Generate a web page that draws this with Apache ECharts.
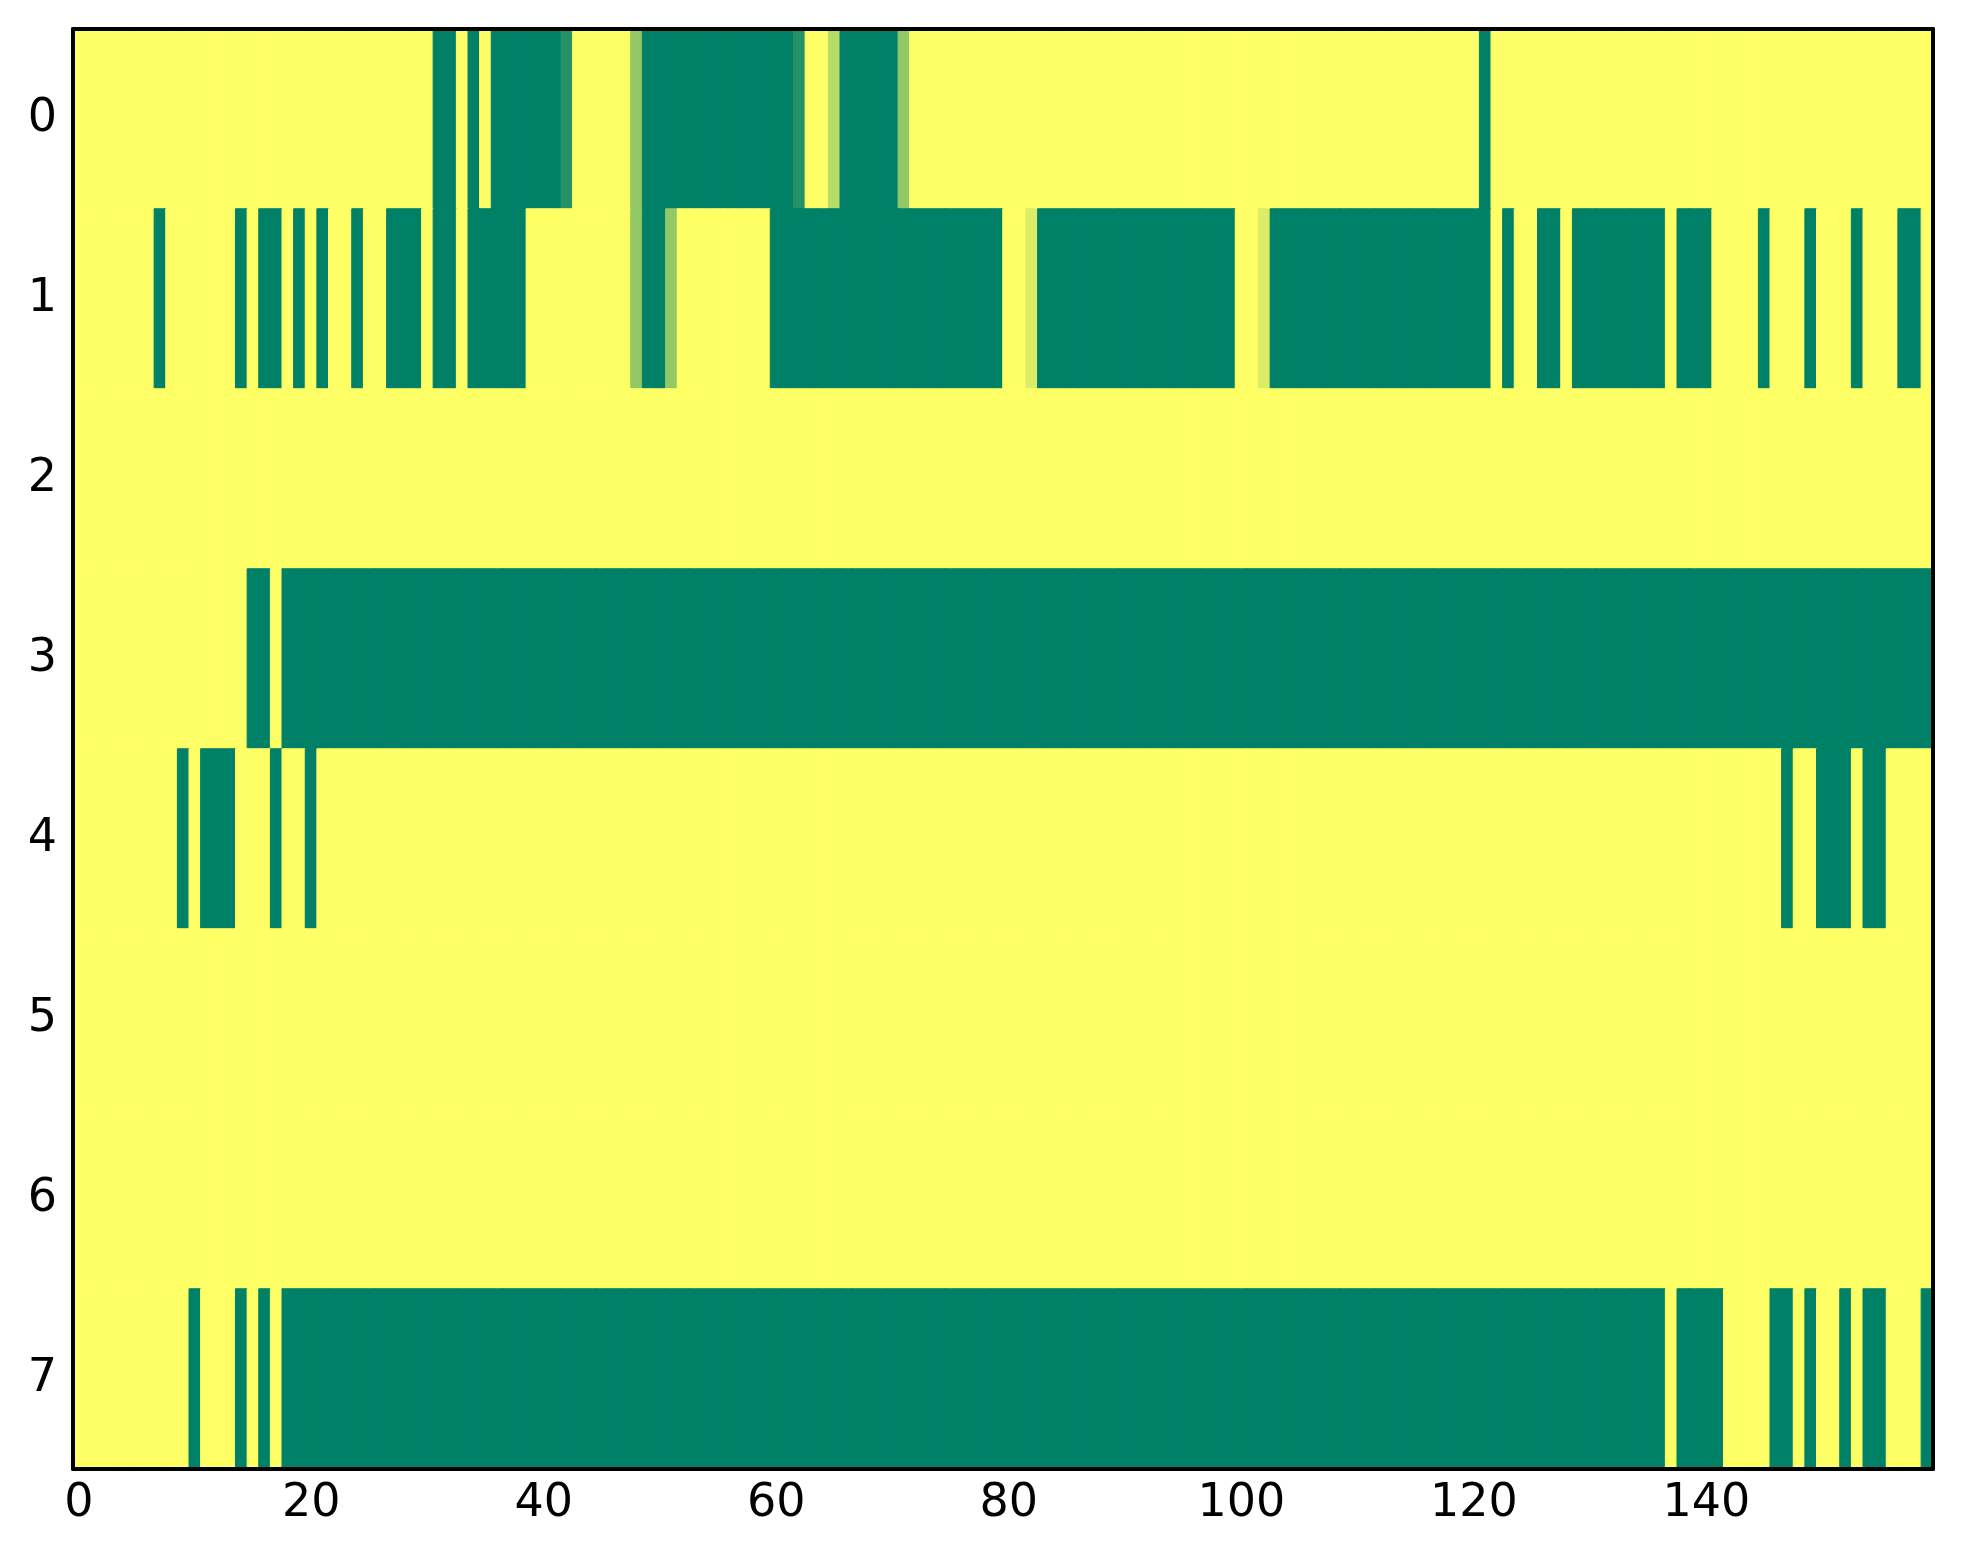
<!DOCTYPE html>
<html>
<head>
<meta charset="utf-8">
<title>heatmap</title>
<script src="https://cdn.jsdelivr.net/npm/echarts@6/dist/echarts.min.js"></script>
<style>
  html, body { margin: 0; padding: 0; background: #fff; }
  #chart { width: 1963px; height: 1564px; }
</style>
</head>
<body>
<div id="chart"></div>
<script>
// values are in sevenths: 0 = yellow, 7 = full green
var row0 = [
  0,0,0,0,0,0,0,0,0,0,0,0,0,0,0,0,0,0,0,0,
  0,0,0,0,0,0,0,0,0,0,0,7,7,0,7,0,7,7,7,7,
  7,7,6,0,0,0,0,0,3,7,7,7,7,7,7,7,7,7,7,7,
  7,7,6,0,0,2,7,7,7,7,7,3,0,0,0,0,0,0,0,0,
  0,0,0,0,0,0,0,0,0,0,0,0,0,0,0,0,0,0,0,0,
  0,0,0,0,0,0,0,0,0,0,0,0,0,0,0,0,0,0,0,0,
  0,7,0,0,0,0,0,0,0,0,0,0,0,0,0,0,0,0,0,0,
  0,0,0,0,0,0,0,0,0,0,0,0,0,0,0,0,0,0,0,0
];
var row1 = [
  0,0,0,0,0,0,0,7,0,0,0,0,0,0,7,0,7,7,0,7,
  0,7,0,0,7,0,0,7,7,7,0,7,7,0,7,7,7,7,7,0,
  0,0,0,0,0,0,0,0,3,7,7,3,0,0,0,0,0,0,0,0,
  7,7,7,7,7,7,7,7,7,7,7,7,7,7,7,7,7,7,7,7,
  0,0,1,7,7,7,7,7,7,7,7,7,7,7,7,7,7,7,7,7,
  0,0,1,7,7,7,7,7,7,7,7,7,7,7,7,7,7,7,7,7,
  7,7,0,7,0,0,7,7,0,7,7,7,7,7,7,7,7,0,7,7,
  7,0,0,0,0,7,0,0,0,7,0,0,0,7,0,0,0,7,7,0
];
var row2 = [
  0,0,0,0,0,0,0,0,0,0,0,0,0,0,0,0,0,0,0,0,
  0,0,0,0,0,0,0,0,0,0,0,0,0,0,0,0,0,0,0,0,
  0,0,0,0,0,0,0,0,0,0,0,0,0,0,0,0,0,0,0,0,
  0,0,0,0,0,0,0,0,0,0,0,0,0,0,0,0,0,0,0,0,
  0,0,0,0,0,0,0,0,0,0,0,0,0,0,0,0,0,0,0,0,
  0,0,0,0,0,0,0,0,0,0,0,0,0,0,0,0,0,0,0,0,
  0,0,0,0,0,0,0,0,0,0,0,0,0,0,0,0,0,0,0,0,
  0,0,0,0,0,0,0,0,0,0,0,0,0,0,0,0,0,0,0,0
];
var row3 = [
  0,0,0,0,0,0,0,0,0,0,0,0,0,0,0,7,7,0,7,7,
  7,7,7,7,7,7,7,7,7,7,7,7,7,7,7,7,7,7,7,7,
  7,7,7,7,7,7,7,7,7,7,7,7,7,7,7,7,7,7,7,7,
  7,7,7,7,7,7,7,7,7,7,7,7,7,7,7,7,7,7,7,7,
  7,7,7,7,7,7,7,7,7,7,7,7,7,7,7,7,7,7,7,7,
  7,7,7,7,7,7,7,7,7,7,7,7,7,7,7,7,7,7,7,7,
  7,7,7,7,7,7,7,7,7,7,7,7,7,7,7,7,7,7,7,7,
  7,7,7,7,7,7,7,7,7,7,7,7,7,7,7,7,7,7,7,7
];
var row4 = [
  0,0,0,0,0,0,0,0,0,7,0,7,7,7,0,0,0,7,0,0,
  7,0,0,0,0,0,0,0,0,0,0,0,0,0,0,0,0,0,0,0,
  0,0,0,0,0,0,0,0,0,0,0,0,0,0,0,0,0,0,0,0,
  0,0,0,0,0,0,0,0,0,0,0,0,0,0,0,0,0,0,0,0,
  0,0,0,0,0,0,0,0,0,0,0,0,0,0,0,0,0,0,0,0,
  0,0,0,0,0,0,0,0,0,0,0,0,0,0,0,0,0,0,0,0,
  0,0,0,0,0,0,0,0,0,0,0,0,0,0,0,0,0,0,0,0,
  0,0,0,0,0,0,0,7,0,0,7,7,7,0,7,7,0,0,0,0
];
var row5 = [
  0,0,0,0,0,0,0,0,0,0,0,0,0,0,0,0,0,0,0,0,
  0,0,0,0,0,0,0,0,0,0,0,0,0,0,0,0,0,0,0,0,
  0,0,0,0,0,0,0,0,0,0,0,0,0,0,0,0,0,0,0,0,
  0,0,0,0,0,0,0,0,0,0,0,0,0,0,0,0,0,0,0,0,
  0,0,0,0,0,0,0,0,0,0,0,0,0,0,0,0,0,0,0,0,
  0,0,0,0,0,0,0,0,0,0,0,0,0,0,0,0,0,0,0,0,
  0,0,0,0,0,0,0,0,0,0,0,0,0,0,0,0,0,0,0,0,
  0,0,0,0,0,0,0,0,0,0,0,0,0,0,0,0,0,0,0,0
];
var row6 = [
  0,0,0,0,0,0,0,0,0,0,0,0,0,0,0,0,0,0,0,0,
  0,0,0,0,0,0,0,0,0,0,0,0,0,0,0,0,0,0,0,0,
  0,0,0,0,0,0,0,0,0,0,0,0,0,0,0,0,0,0,0,0,
  0,0,0,0,0,0,0,0,0,0,0,0,0,0,0,0,0,0,0,0,
  0,0,0,0,0,0,0,0,0,0,0,0,0,0,0,0,0,0,0,0,
  0,0,0,0,0,0,0,0,0,0,0,0,0,0,0,0,0,0,0,0,
  0,0,0,0,0,0,0,0,0,0,0,0,0,0,0,0,0,0,0,0,
  0,0,0,0,0,0,0,0,0,0,0,0,0,0,0,0,0,0,0,0
];
var row7 = [
  0,0,0,0,0,0,0,0,0,0,7,0,0,0,7,0,7,0,7,7,
  7,7,7,7,7,7,7,7,7,7,7,7,7,7,7,7,7,7,7,7,
  7,7,7,7,7,7,7,7,7,7,7,7,7,7,7,7,7,7,7,7,
  7,7,7,7,7,7,7,7,7,7,7,7,7,7,7,7,7,7,7,7,
  7,7,7,7,7,7,7,7,7,7,7,7,7,7,7,7,7,7,7,7,
  7,7,7,7,7,7,7,7,7,7,7,7,7,7,7,7,7,7,7,7,
  7,7,7,7,7,7,7,7,7,7,7,7,7,7,7,7,7,0,7,7,
  7,7,0,0,0,0,7,7,0,7,0,0,7,0,7,7,0,0,0,7
];

var rows = [row0, row1, row2, row3, row4, row5, row6, row7];
var rowLabels = ['0', '1', '2', '3', '4', '5', '6', '7'];
var colLabels = [];
for (var i = 0; i < row0.length; i++) colLabels.push(String(i));

var colorRange = ['#ffff66', '#008066'];  // summer_r ends
var vMax = 7;

// border in the cell's own colour hides the seams between cells
var data = [];
rows.forEach(function(r, y) {
    r.forEach(function(v, x) {
        data.push({
            value: [x, y, v],
            itemStyle: { borderColor: echarts.color.lerp(v / vMax, colorRange) }
        });
    });
});

function every20(index) {
    return index % 20 === 0;
}

var lineStyle = { color: '#000', width: 4 };
var tickStyle = { color: '#000', width: 2 };
var labelStyle = {
    color: '#000',
    fontSize: 46,
    fontFamily: 'DejaVu Sans'
};

var chart = echarts.init(document.getElementById('chart'), null, { renderer: 'canvas' });
chart.setOption({
    animation: false,
    backgroundColor: '#fff',
    grid: { left: 73, right: 30, top: 29, bottom: 95 },
    xAxis: [{
        type: 'category',
        data: colLabels,
        position: 'bottom',
        z: 10,
        axisLine: { lineStyle: lineStyle },
        axisTick: { inside: true, length: 16, alignWithLabel: true, interval: every20, lineStyle: tickStyle },
        axisLabel: Object.assign({ interval: every20, margin: 12 }, labelStyle),
        splitLine: { show: false }
    }, {
        type: 'category',
        data: colLabels,
        position: 'top',
        z: 10,
        axisLine: { lineStyle: lineStyle },
        axisTick: { inside: true, length: 16, alignWithLabel: true, interval: every20, lineStyle: tickStyle },
        axisLabel: { show: false },
        splitLine: { show: false }
    }],
    yAxis: [{
        type: 'category',
        data: rowLabels,
        inverse: true,
        position: 'left',
        z: 10,
        axisLine: { lineStyle: lineStyle },
        axisTick: { inside: true, length: 16, alignWithLabel: true, interval: 0, lineStyle: tickStyle },
        axisLabel: Object.assign({ interval: 0, margin: 16 }, labelStyle),
        splitLine: { show: false }
    }, {
        type: 'category',
        data: rowLabels,
        inverse: true,
        position: 'right',
        z: 10,
        axisLine: { lineStyle: lineStyle },
        axisTick: { inside: true, length: 16, alignWithLabel: true, interval: 0, lineStyle: tickStyle },
        axisLabel: { show: false },
        splitLine: { show: false }
    }],
    visualMap: {
        show: false,
        min: 0,
        max: vMax,
        dimension: 2,
        inRange: { color: colorRange }
    },
    series: [{
        type: 'heatmap',
        xAxisIndex: 0,
        yAxisIndex: 0,
        data: data,
        itemStyle: { borderWidth: 1 },
        emphasis: { disabled: true },
        progressive: 0
    }]
});
</script>
</body>
</html>
